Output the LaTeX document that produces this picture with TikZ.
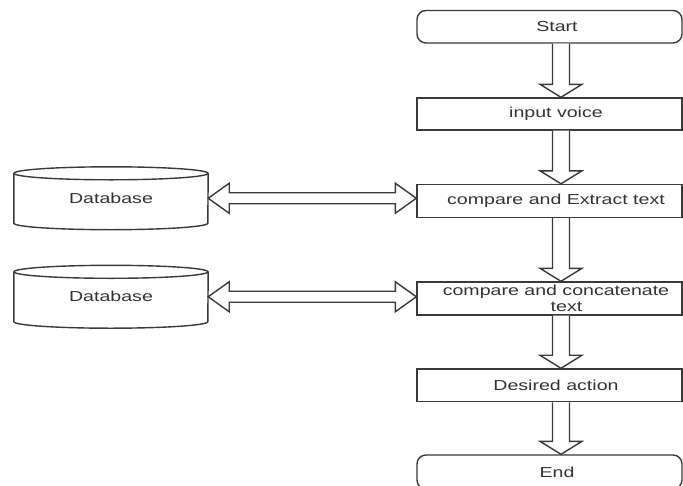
\documentclass[tikz,border=0pt]{standalone}
\usepackage{fontspec}
\setmainfont{Liberation Sans}[FakeStretch=1.35]
\usetikzlibrary{calc}
\definecolor{ln}{HTML}{3A3A3A}
\definecolor{tx}{HTML}{333333}
\tikzset{
  base/.style={draw=ln, line width=1.4pt, text=tx, font=\fontsize{14.5}{16}\selectfont,
    minimum width=265pt, inner sep=0pt, align=center},
  procbox/.style={base, rectangle, execute at begin node={\hspace*{13pt}}},
  termbox/.style={base, rectangle, rounded corners=9pt, execute at begin node={\hspace*{15pt}}},
  dbnode/.style={text=tx, font=\fontsize{14.5}{16}\selectfont, minimum width=194pt, inner sep=0pt},
  dbline/.style={draw=ln, line width=1.4pt},
  blockarrow/.style={draw=ln, line width=1.4pt, fill=white, line join=miter},
}
\newcommand{\vblockarrow}[2]{%
  \draw[blockarrow] ($(#1.south)+(11.5,0)+(-8.5,0)$) -- ($(#2.north)+(11.5,0)+(-8.5,-13)$)
    -- ($(#2.north)+(11.5,0)+(-21,-13)$) -- ($(#2.north)+(11.5,0)$)
    -- ($(#2.north)+(11.5,0)+(21,-13)$) -- ($(#2.north)+(11.5,0)+(8.5,-13)$)
    -- ($(#1.south)+(11.5,0)+(8.5,0)$);}
\newcommand{\hblockarrow}[2]{%
  \draw[blockarrow] (#1.east) -- ($(#1.east)+(21,-15)$) -- ($(#1.east)+(21,-5.5)$)
    -- ($(#2.west |- #1.east)+(-21,-5.5)$) -- ($(#2.west |- #1.east)+(-21,-15)$)
    -- (#2.west |- #1.east) -- ($(#2.west |- #1.east)+(-21,15)$)
    -- ($(#2.west |- #1.east)+(-21,5.5)$) -- ($(#1.east)+(21,5.5)$)
    -- ($(#1.east)+(21,15)$) -- cycle;}
\newcommand{\cylinderaround}[1]{%
  \draw[dbline] ($(#1.north)+(0,6.5)$) ellipse (97pt and 6.5pt);
  \draw[dbline] ($(#1.north west)+(0,6.5)$) -- ($(#1.south west)+(0,-6.5)$)
    arc (180:360:97pt and 6.5pt) -- ($(#1.north east)+(0,6.5)$);}
\begin{document}
\begin{tikzpicture}[x=1pt,y=-1pt]
\useasboundingbox (0,0) rectangle (683,485);
\clip (0,0) rectangle (683,485);
\fill[white] (0,0) rectangle (683,485);

\node[termbox, minimum height=32.5pt] (start) at (549.5,26.75) {Start};
\node[procbox, minimum height=32pt] (input) at (549.5,114) {input voice};
\node[procbox, minimum height=33pt] (extract) at (549.5,201) {compare and Extract text};
\node[procbox, minimum height=33pt] (concat) at (549.5,298.5) {compare and concatenate\\\hspace*{21pt}text};
\node[procbox, minimum height=32.7pt] (desired) at (549.5,385.3) {Desired action};
\node[termbox, minimum height=34pt] (end) at (549.5,472) {End};

\node[dbnode, minimum height=62.5pt] (db1) at (111,198.25) {Database};
\node[dbnode, minimum height=62.5pt] (db2) at (111,296.75) {Database};
\cylinderaround{db1}
\cylinderaround{db2}

\vblockarrow{start}{input}
\vblockarrow{input}{extract}
\vblockarrow{extract}{concat}
\vblockarrow{concat}{desired}
\vblockarrow{desired}{end}

\hblockarrow{db1}{extract}
\hblockarrow{db2}{concat}
\end{tikzpicture}
\end{document}
